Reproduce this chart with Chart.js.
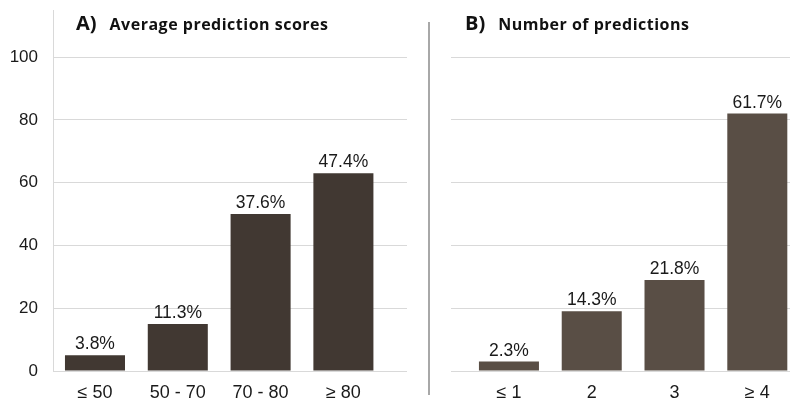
<!DOCTYPE html>
<html><head><meta charset="utf-8">
<script src="https://cdn.jsdelivr.net/npm/chart.js@4.4.1/dist/chart.umd.min.js"></script>
<style>
html,body{margin:0;padding:0;background:#fff;}
#wrap{position:relative;width:790px;height:400px;overflow:hidden;background:#fff;}
#cA{position:absolute;left:0;top:0;}
#cB{position:absolute;left:451px;top:0;}
.ttl{position:absolute;top:14px;font-family:'Open Sans',sans-serif;font-weight:700;color:#111;white-space:nowrap;line-height:18px;}
.ttl .k{font-size:20px;}
.ttl .t{font-size:16px;margin-left:13px;letter-spacing:0.5px;}
#sep{position:absolute;left:428px;top:22px;width:2px;height:373px;background:#a8a8a8;}
</style></head>
<body><div id="wrap">
<canvas id="cA" width="407" height="400"></canvas>
<canvas id="cB" width="339" height="400"></canvas>
<div id="sep"></div>
<div class="ttl" style="left:76px"><span class="k">A)</span><span class="t">Average prediction scores</span></div>
<div class="ttl" style="left:465px"><span class="k">B)</span><span class="t">Number of predictions</span></div>
</div>
<script>
// Panel A data
const catsA = ['≤ 50', '50 - 70', '70 - 80', '≥ 80'];
const valsA = [5, 15, 50, 63];
const pctA = ['3.8%', '11.3%', '37.6%', '47.4%'];
// Panel B data
const catsB = ['≤ 1', '2', '3', '≥ 4'];
const valsB = [3, 19, 29, 82];
const pctB = ['2.3%', '14.3%', '21.8%', '61.7%'];
// Y tick settings
const yMax = 115;
const yStep = 20;

const FONT_Y = {family: '"Liberation Sans", Arial, sans-serif', size: 17};
const FONT_X = {family: '"Liberation Sans", Arial, sans-serif', size: 18};
const TXT = '#1a1a1a';
const GRID = '#d9d9d9';

const pctPlugin = {
  id: 'pct',
  afterDatasetsDraw(chart, args, opts) {
    const ctx = chart.ctx;
    const meta = chart.getDatasetMeta(0);
    ctx.save();
    ctx.font = '17.5px "Liberation Sans", Arial, sans-serif';
    ctx.fillStyle = TXT;
    ctx.textAlign = 'center';
    ctx.textBaseline = 'alphabetic';
    meta.data.forEach((bar, i) => ctx.fillText(opts.labels[i], bar.x, bar.y - 6));
    ctx.restore();
  }
};

function zeroPad(s) { s.paddingTop = 0; s.paddingBottom = 0; s.paddingLeft = 0; s.paddingRight = 0; }

function makeChart(id, cats, vals, pcts, color, xMin, xMax, showY) {
  return new Chart(document.getElementById(id), {
    type: 'bar',
    data: {
      datasets: [{
        data: cats.map((c, i) => ({x: i, y: vals[i]})),
        backgroundColor: color,
        borderWidth: 0,
        categoryPercentage: 1,
        barPercentage: 0.725
      }]
    },
    plugins: [pctPlugin],
    options: {
      responsive: false,
      animation: false,
      layout: {padding: {top: 10, right: 0, left: 0, bottom: 0}},
      plugins: {
        legend: {display: false},
        tooltip: {enabled: false},
        title: {display: false},
        pct: {labels: pcts}
      },
      scales: {
        x: {
          type: 'linear',
          offset: false,
          min: xMin, max: xMax,
          grid: {display: false, drawTicks: false, offset: false},
          border: {display: true, color: GRID, width: 1},
          ticks: {font: FONT_X, color: TXT, padding: 11, autoSkip: false, maxRotation: 0,
                  callback: (v, i) => cats[i]},
          afterBuildTicks: s => { s.ticks = cats.map((_, i) => ({value: i})); },
          afterFit: s => { s.height = 29; zeroPad(s); }
        },
        y: {
          min: 0, max: yMax,
          grid: {color: GRID, drawTicks: false},
          border: {display: showY, color: GRID, width: 1},
          ticks: {display: showY, stepSize: yStep, includeBounds: false, padding: 15, font: FONT_Y, color: TXT},
          afterFit: s => { s.width = showY ? 53 : 0; zeroPad(s); }
        }
      }
    }
  });
}

makeChart('cA', catsA, valsA, pctA, '#413832', -0.507, 3.768, true);
makeChart('cB', catsB, valsB, pctB, '#594e45', -0.70, 3.395, false);
</script>
</body></html>
